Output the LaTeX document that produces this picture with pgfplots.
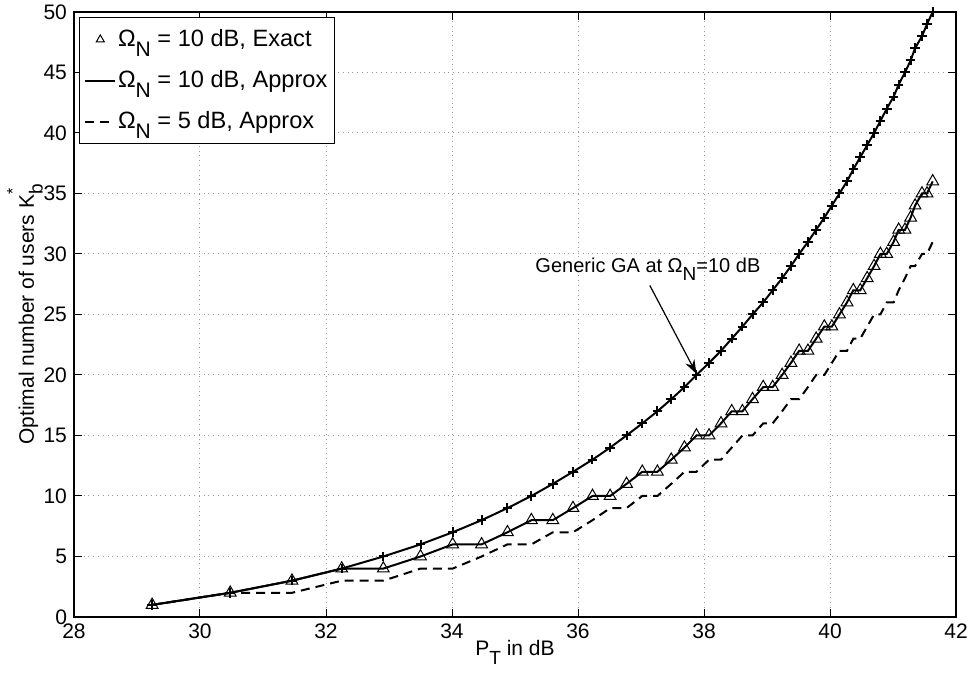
\documentclass[border=0pt]{standalone}
\usepackage{pgfplots}
\pgfplotsset{compat=1.18}
\usepackage{fontspec}
\setmainfont{Liberation Sans}
\usetikzlibrary{arrows.meta}
\newcommand{\sub}[1]{\raisebox{-0.42em}{\fontsize{9.5}{10}\selectfont #1}}
\newcommand{\lsub}[1]{\raisebox{-0.42em}{\fontsize{10.5}{11}\selectfont #1}}

% P_T (dB) and K for the generic GA curve at Omega_N = 10 dB
\pgfplotstableread{
P K
29.24 1
30.48 2
31.46 3
32.25 4
32.91 5
33.50 6
34.01 7
34.47 8
34.88 9
35.26 10
35.60 11
35.92 12
36.23 13
36.51 14
36.77 15
37.02 16
37.26 17
37.48 18
37.69 19
37.88 20
38.08 21
38.27 22
38.44 23
38.61 24
38.77 25
38.94 26
39.09 27
39.24 28
39.38 29
39.51 30
39.65 31
39.78 32
39.91 33
40.03 34
40.15 35
40.27 36
40.37 37
40.48 38
40.59 39
40.70 40
40.80 41
40.90 42
41.01 43
41.09 44
41.19 45
41.28 46
41.35 47
41.46 48
41.54 49
41.63 50
}\gadata

% Omega_N = 10 dB (exact and approx) and 5 dB (approx)
\pgfplotstableread{
P ten five
29.24 1 1
30.48 2 2
31.46 3 2
32.25 4 3
32.91 4 3
33.50 5 4
34.01 6 4
34.47 6 5
34.88 7 6
35.26 8 6
35.60 8 7
35.92 9 7
36.23 10 8
36.51 10 9
36.77 11 9
37.02 12 10
37.26 12 10
37.48 13 11
37.69 14 12
37.88 15 12
38.08 15 13
38.27 16 13
38.44 17 14
38.61 17 15
38.77 18 15
38.94 19 16
39.09 19 16
39.24 20 17
39.38 21 18
39.51 22 18
39.65 22 19
39.78 23 20
39.91 24 20
40.03 24 21
40.15 25 22
40.27 26 22
40.37 27 23
40.48 27 23
40.59 28 24
40.70 29 25
40.80 30 25
40.90 30 26
41.01 31 26
41.09 32 27
41.19 32 28
41.28 33 29
41.35 34 29
41.46 35 30
41.54 35 30
41.63 36 31
}\kdata

\begin{document}
\begin{tikzpicture}
\useasboundingbox (-37pt,-28pt) rectangle (447.5pt,308.5pt);
\begin{axis}[
    at={(0,0)}, anchor=south west,
    scale only axis,
    width=441pt, height=302.5pt,
    xmin=28, xmax=42, ymin=0, ymax=50,
    xtick={28,30,...,42},
    ytick={0,5,...,50},
    font=\fontsize{10.5}{12}\selectfont,
    /pgf/number format/assume math mode=true,
    tick align=inside,
    major tick length=4pt,
    every tick/.style={black, line width=0.5pt},
    axis line style={line width=0.6pt},
    grid=major,
    major grid style={dotted, gray!80, line width=0.5pt},
    xlabel={P\sub{T} in dB},
    ylabel={Optimal number of users K\rlap{\raisebox{0.75em}{\fontsize{8}{8}\selectfont *}}\sub{b}},
    xlabel style={at={(axis description cs:0.5,-0.058)}, anchor=center},
    ylabel style={at={(axis description cs:-0.0556,0.5)}, anchor=center},
    legend cell align=left,
    legend image code/.code={\draw[mark repeat=2,mark phase=2,#1] plot coordinates {(0cm,0cm) (0.26cm,0cm) (0.52cm,0cm)};},
    legend style={at={(axis description cs:0,1)}, xshift=2.5pt, yshift=-2.5pt,
        anchor=north west, draw=black, line width=0.5pt,
        font=\fontsize{11.8}{13}\selectfont,
        inner xsep=2.5pt, inner ysep=5pt, row sep=8.5pt,
        nodes={inner xsep=1pt, inner ysep=1pt}},
]
\addplot[only marks, mark=triangle, mark size=3.4pt, mark options={line width=0.5pt},
    legend image post style={mark size=2.3pt}] table[x=P, y=ten] {\kdata};
\addplot[black, line width=1pt] table[x=P, y=ten] {\kdata};
\addplot[black, line width=1pt, dash pattern=on 4.5pt off 3pt] table[x=P, y=five] {\kdata};
\addplot[black, line width=1pt, mark=+, mark size=2.4pt, mark options={line width=1pt}, forget plot] table[x=P, y=K] {\gadata};
\legend{Ω\lsub{N} = 10 dB{,} Exact, Ω\lsub{N} = 10 dB{,} Approx, Ω\lsub{N} = 5 dB{,} Approx}
\node[anchor=base, font=\fontsize{10}{12}\selectfont] at (axis cs:37.11,28.5) {Generic GA at Ω\sub{N}=10 dB};
\draw[line width=0.6pt, -{Stealth[length=7pt, width=5pt]}] (axis cs:37.14,27.4) -- (axis cs:37.88,20.1);
\end{axis}
\end{tikzpicture}
\end{document}
